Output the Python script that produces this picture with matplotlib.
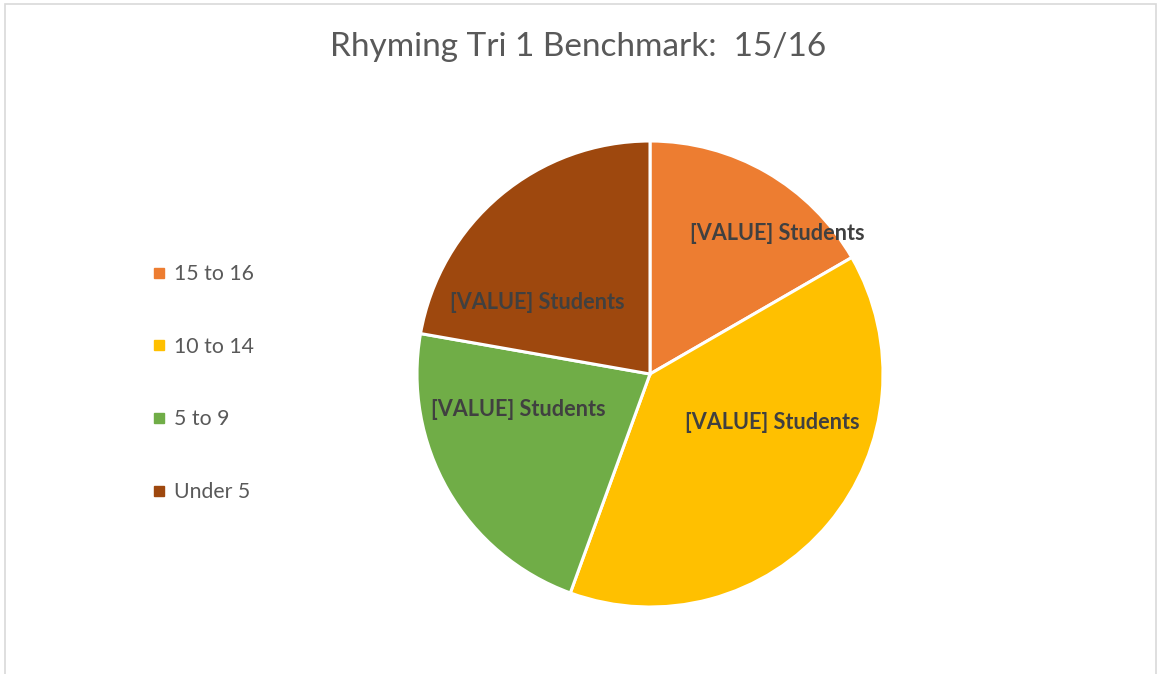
import matplotlib
matplotlib.use("Agg")
import matplotlib.pyplot as plt
from matplotlib.patches import Rectangle
from matplotlib.lines import Line2D

# datos del gráfico
categorias = ["15 to 16", "10 to 14", "5 to 9", "Under 5"]
alumnos = [3, 7, 4, 4]
colores = ["#ED7D31", "#FFC000", "#70AD47", "#9E480E"]
etiqueta = "[VALUE] Students"
titulo = "Rhyming Tri 1 Benchmark:  15/16"

# posicion de etiquetas (fraccion del radio), como en el original
pos_etiquetas = [(0.545, 0.605), (0.524, -0.207), (-0.567, -0.152), (-0.485, 0.305)]

plt.rcParams["font.family"] = ["Lato", "DejaVu Sans"]

fig = plt.figure(figsize=(11.57, 6.74), dpi=100)

# marco gris claro
fig.patches.append(Rectangle((5 / 1157, -0.01), 1151 / 1157, 1 - 4 / 674 + 0.01,
                             transform=fig.transFigure, fill=False,
                             edgecolor="#D9D9D9", linewidth=1.2))

ax = fig.add_axes([0.3604, 0.0994, 0.4028, 0.6914])
ax.pie(alumnos, colors=colores, startangle=90, counterclock=False,
       wedgeprops=dict(edgecolor="white", linewidth=2.2))
ax.set_xlim(-1.0, 1.0)
ax.set_ylim(-1.0, 1.0)
ax.set_aspect("equal")

for (x, y) in pos_etiquetas:
    ax.text(x, y, etiqueta, ha="center", va="center", fontsize=15.6,
            fontweight="bold", color="#404040")

fig.text(0.5, 1 - 47 / 674, titulo, ha="center", va="center",
         fontsize=24, color="#595959")

handles = [Line2D([], [], marker="s", linestyle="none", markersize=7,
                  markerfacecolor=c, markeredgecolor=c) for c in colores]
fig.legend(handles, categorias, loc="center left",
           bbox_to_anchor=(130 / 1157, 1 - 383 / 674), frameon=False,
           fontsize=15.3, labelspacing=2.48, handletextpad=0.25,
           handlelength=0.9, labelcolor="#595959")

fig.savefig("out.png", dpi=100)
